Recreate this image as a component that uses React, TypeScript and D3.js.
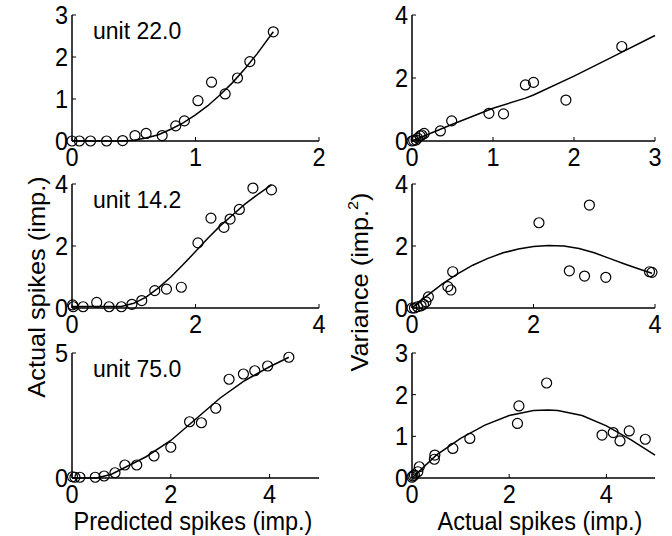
import * as d3 from 'd3';
import { useEffect, useRef } from 'react';

// unit 22.0 — predicted vs actual
const u22Pred = [0, 0.06, 0.15, 0.28, 0.41, 0.51, 0.6, 0.73, 0.84, 0.91, 1.02, 1.13, 1.24, 1.34, 1.44, 1.63];
const u22Act = [0, 0, 0, 0, 0.01, 0.13, 0.18, 0.13, 0.36, 0.48, 0.96, 1.4, 1.12, 1.5, 1.89, 2.6];
const u22FitX = [0, 0.4, 0.5, 0.6, 0.7, 0.8, 0.9, 1.0, 1.1, 1.2, 1.3, 1.4, 1.5, 1.63];
const u22FitY = [0, 0, 0.02, 0.07, 0.15, 0.28, 0.43, 0.62, 0.84, 1.1, 1.39, 1.72, 2.08, 2.6];

// unit 22.0 — actual vs variance
const u22Mean = [0, 0.02, 0.05, 0.07, 0.1, 0.12, 0.15, 0.35, 0.49, 0.95, 1.13, 1.4, 1.5, 1.9, 2.59];
const u22Var = [0, 0.02, 0.03, 0.09, 0.16, 0.19, 0.24, 0.32, 0.64, 0.88, 0.86, 1.78, 1.86, 1.3, 3.0];
const u22VarFitX = [0, 0.5, 1.0, 1.4, 1.5, 2.0, 2.5, 3.0];
const u22VarFitY = [0, 0.53, 1.04, 1.36, 1.46, 2.06, 2.7, 3.35];

// unit 14.2
const u14Pred = [0.01, 0.02, 0.18, 0.4, 0.6, 0.8, 0.97, 1.13, 1.34, 1.53, 1.77, 2.04, 2.25, 2.46, 2.56, 2.71, 2.93, 3.23];
const u14Act = [0.1, 0.04, 0.04, 0.18, 0.04, 0.04, 0.12, 0.24, 0.56, 0.61, 0.67, 2.1, 2.9, 2.6, 2.87, 3.18, 3.87, 3.81];
const u14FitX = [0, 0.8, 1.0, 1.2, 1.4, 1.6, 1.8, 2.0, 2.2, 2.4, 2.6, 2.8, 3.0, 3.23];
const u14FitY = [0.05, 0.05, 0.15, 0.35, 0.65, 1.0, 1.4, 1.82, 2.25, 2.65, 3.0, 3.35, 3.65, 3.97];

const u14Mean = [0, 0.04, 0.09, 0.15, 0.19, 0.23, 0.27, 0.59, 0.64, 0.67, 2.09, 2.59, 2.84, 3.19, 2.92, 3.91, 3.95];
const u14Var = [0, 0, 0.04, 0.07, 0.12, 0.2, 0.36, 0.69, 0.58, 1.17, 2.75, 1.2, 1.03, 0.99, 3.32, 1.17, 1.15];
const u14VarFitX = [0, 0.25, 0.5, 0.75, 1.0, 1.25, 1.5, 1.75, 2.0, 2.25, 2.5, 2.75, 3.0, 3.25, 3.5, 3.75, 3.95];
const u14VarFitY = [0, 0.4, 0.78, 1.1, 1.38, 1.6, 1.78, 1.9, 1.98, 2.02, 2.0, 1.92, 1.78, 1.6, 1.42, 1.25, 1.12];

// unit 75.0
const u75Pred = [0.01, 0.06, 0.16, 0.47, 0.65, 0.87, 1.07, 1.31, 1.66, 2.0, 2.38, 2.62, 2.91, 3.18, 3.47, 3.7, 3.96, 4.39];
const u75Act = [0.05, 0.03, 0.03, 0.03, 0.08, 0.21, 0.52, 0.52, 0.88, 1.23, 2.25, 2.21, 2.79, 3.95, 4.16, 4.29, 4.48, 4.83];
const u75FitX = [0, 0.5, 0.8, 1.0, 1.5, 2.0, 2.5, 3.0, 3.5, 4.0, 4.39];
const u75FitY = [0, 0, 0.15, 0.35, 0.85, 1.5, 2.35, 3.2, 3.9, 4.45, 4.83];

const u75Mean = [0, 0.02, 0.05, 0.12, 0.15, 0.46, 0.47, 0.84, 1.19, 2.17, 2.2, 2.77, 3.91, 4.14, 4.28, 4.47, 4.8];
const u75Var = [0.02, 0.05, 0.07, 0.15, 0.27, 0.45, 0.55, 0.71, 0.95, 1.31, 1.73, 2.28, 1.03, 1.09, 0.89, 1.13, 0.93];
const u75VarFitX = [0, 0.5, 1.0, 1.5, 2.0, 2.5, 2.8, 3.0, 3.5, 4.0, 4.5, 5.0];
const u75VarFitY = [0, 0.55, 0.95, 1.27, 1.5, 1.62, 1.63, 1.62, 1.5, 1.25, 0.92, 0.55];

const panels = [
    { px: u22Pred, py: u22Act, fx: u22FitX, fy: u22FitY, xMax: 2, yMax: 3, xTicks: [0, 1, 2], yTicks: [0, 1, 2, 3], label: 'unit 22.0', col: 0, row: 0 },
    { px: u22Mean, py: u22Var, fx: u22VarFitX, fy: u22VarFitY, xMax: 3, yMax: 4, xTicks: [0, 1, 2, 3], yTicks: [0, 2, 4], label: '', col: 1, row: 0 },
    { px: u14Pred, py: u14Act, fx: u14FitX, fy: u14FitY, xMax: 4, yMax: 4, xTicks: [0, 2, 4], yTicks: [0, 2, 4], label: 'unit 14.2', col: 0, row: 1 },
    { px: u14Mean, py: u14Var, fx: u14VarFitX, fy: u14VarFitY, xMax: 4, yMax: 4, xTicks: [0, 2, 4], yTicks: [0, 2, 4], label: '', col: 1, row: 1 },
    { px: u75Pred, py: u75Act, fx: u75FitX, fy: u75FitY, xMax: 5, yMax: 5, xTicks: [0, 2, 4], yTicks: [0, 5], label: 'unit 75.0', col: 0, row: 2 },
    { px: u75Mean, py: u75Var, fx: u75VarFitX, fy: u75VarFitY, xMax: 5, yMax: 3, xTicks: [0, 2, 4], yTicks: [0, 1, 2, 3], label: '', col: 1, row: 2 },
];

const colX = [[72, 319], [412, 655]];
const rowY = [[141, 15], [308, 184], [478, 353]];
const font = '"Liberation Sans", Arial, Helvetica, sans-serif';
const fs = 23.5;
// the figure is a bit taller than wide, so glyphs get stretched vertically
const stretch = 'scale(1,1.08)';

const App = () => {
    const svgRef = useRef<SVGSVGElement>(null);

    useEffect(() => {
        const svg = d3.select(svgRef.current);
        svg.selectAll('*').remove();

        const label = (x: number, y: number, txt: string | number, anchor: string, size = fs) =>
            svg.append('text')
                .attr('transform', `translate(${x},${y}) ${stretch}`)
                .attr('text-anchor', anchor).attr('font-size', size).attr('font-family', font)
                .text(txt);

        panels.forEach(p => {
            const x = d3.scaleLinear().domain([0, p.xMax]).range(colX[p.col]);
            const y = d3.scaleLinear().domain([0, p.yMax]).range(rowY[p.row]);
            const g = svg.append('g');

            // axes lines
            g.append('line').attr('x1', x(0)).attr('x2', x(p.xMax)).attr('y1', y(0)).attr('y2', y(0))
                .attr('stroke', '#000').attr('stroke-width', 1.5);
            g.append('line').attr('x1', x(0)).attr('x2', x(0)).attr('y1', y(0)).attr('y2', y(p.yMax))
                .attr('stroke', '#000').attr('stroke-width', 1.5);

            // inward ticks
            g.selectAll('.xt').data(p.xTicks).enter().append('line')
                .attr('x1', d => x(d)).attr('x2', d => x(d)).attr('y1', y(0)).attr('y2', y(0) - 4)
                .attr('stroke', '#000').attr('stroke-width', 1);
            g.selectAll('.yt').data(p.yTicks).enter().append('line')
                .attr('x1', x(0)).attr('x2', x(0) + 4).attr('y1', d => y(d)).attr('y2', d => y(d))
                .attr('stroke', '#000').attr('stroke-width', 1);

            p.xTicks.forEach(t => label(x(t), y(0) + 25, t, 'middle'));
            p.yTicks.forEach(t => label(x(0) - 4, y(t) + 9, t, 'end'));

            const line = d3.line<number>().x((d, i) => x(p.fx[i])).y(d => y(d));
            g.append('path').datum(p.fy).attr('d', line)
                .attr('fill', 'none').attr('stroke', '#000').attr('stroke-width', 1.5);

            g.selectAll('circle').data(p.px).enter().append('circle')
                .attr('cx', d => x(d)).attr('cy', (d, i) => y(p.py[i]))
                .attr('r', 5).attr('fill', 'none').attr('stroke', '#000').attr('stroke-width', 1.2);

            if (p.label) label(x(0) + 21, y(p.yMax) + 24, p.label, 'start', 23);
        });

        svg.append('text').attr('transform', `translate(45,287) ${stretch} rotate(-90)`)
            .attr('text-anchor', 'middle').attr('font-size', fs).attr('font-family', font)
            .text('Actual spikes (imp.)');

        const vl = svg.append('text').attr('transform', `translate(368,282) ${stretch} rotate(-90)`)
            .attr('text-anchor', 'middle').attr('font-size', fs).attr('font-family', font);
        vl.append('tspan').text('Variance (imp.');
        vl.append('tspan').attr('font-size', 15).attr('dy', -10).text('2');
        vl.append('tspan').attr('dy', 10).text(')');

        label(193, 530, 'Predicted spikes (imp.)', 'middle');
        label(540, 530, 'Actual spikes (imp.)', 'middle');

        return () => {
            svg.selectAll('*').remove();
        }
    }, []);

    return (
        <svg ref={svgRef} width={672} height={536}
            style={{ position: 'absolute', left: 0, top: 0, background: '#fff' }}></svg>
    )
}

export default App;
